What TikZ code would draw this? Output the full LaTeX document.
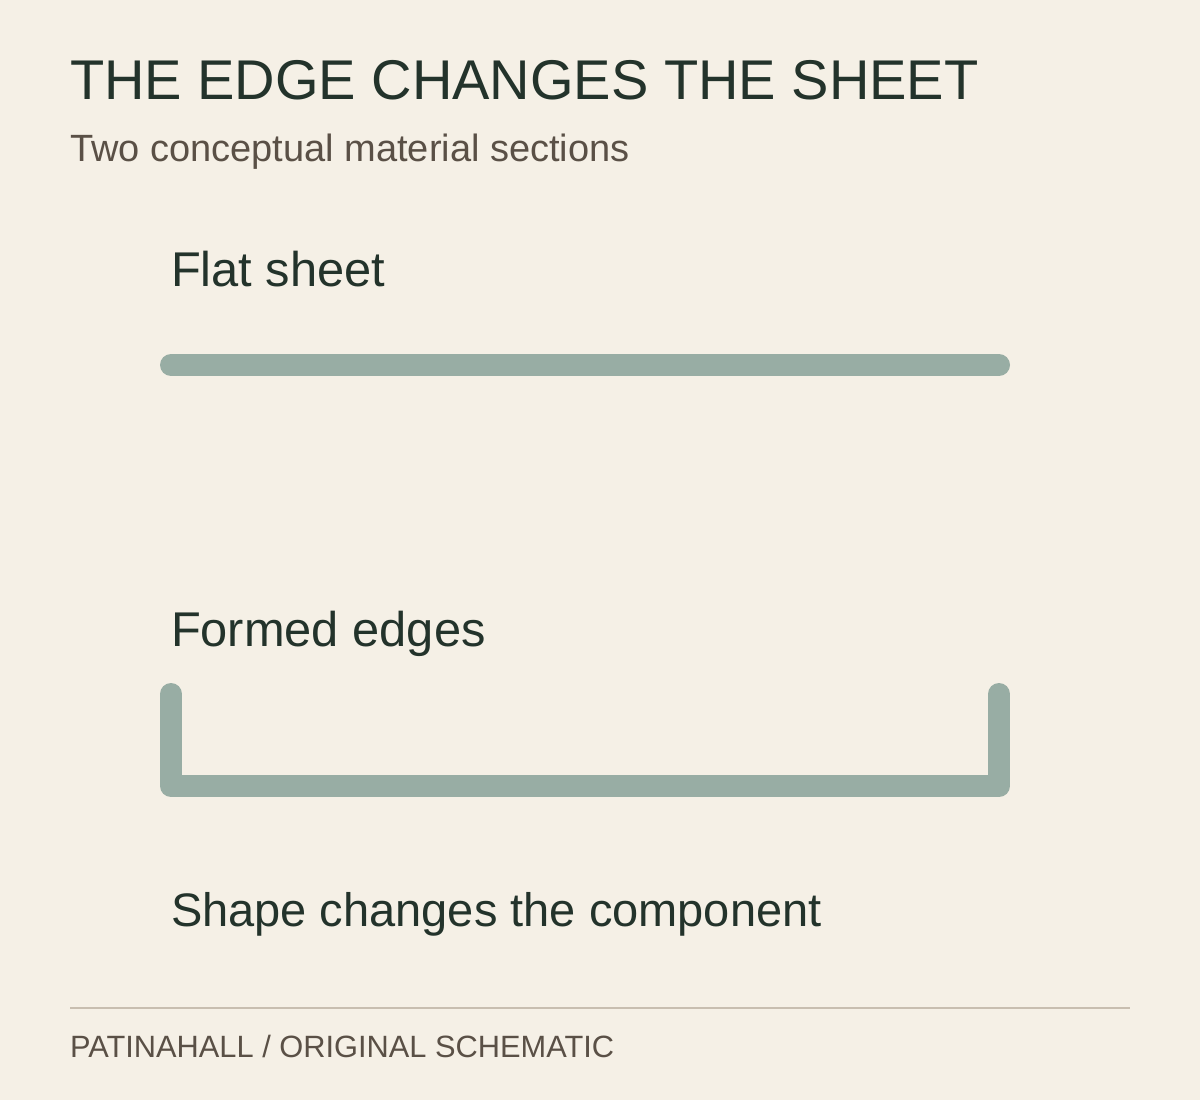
\documentclass[tikz,border=0pt]{standalone}
\usepackage{fontspec}
\setmainfont{Liberation Sans}
\usetikzlibrary{calc}
\definecolor{paper}{HTML}{F5F0E6}
\definecolor{ink}{HTML}{23332B}
\definecolor{brownish}{HTML}{5A5046}
\definecolor{sage}{HTML}{98ADA4}
\definecolor{rule}{HTML}{C8BEB0}
\tikzset{
    txt/.style={anchor=base west, inner sep=0pt, outer sep=0pt},
    titre/.style={txt, text=ink, font=\fontsize{56}{60}\selectfont},
    soustitre/.style={txt, text=brownish, font=\fontsize{38}{42}\selectfont},
    etiquette/.style={txt, text=ink, font=\fontsize{48.8}{52}\selectfont},
    pied/.style={txt, text=brownish, font=\fontsize{30.8}{34}\selectfont},
    tole/.style={draw=sage, line width=22pt, line cap=round, line join=round},
  }
\begin{document}
\begin{tikzpicture}[x=1pt,y=-1pt]
				  %fond et cadre en pixels
				  \fill[paper] (0,0) rectangle (1200,1100);
				  \useasboundingbox (0,0) rectangle (1200,1100);
				  %textes
				  \node[titre] (T) at (70,99) {THE EDGE CHANGES THE SHEET};
				  \node[soustitre] (ST) at (70,161) {Two conceptual material sections};
				  \node[etiquette] (plat) at (171,286) {Flat sheet};
				  \node[etiquette] (forme) at (171,646) {Formed edges};
				  \node[etiquette, font=\fontsize{47}{52}\selectfont] (bilan) at (171,926) {Shape changes the component};
				  \node[pied] (P) at (70,1057) {PATINAHALL / ORIGINAL SCHEMATIC};
				  %tole plate
				  \coordinate (A) at (171,365);
				  \coordinate (B) at (999,365);
				  \draw[tole] (A) -- (B);
				  %tole pliee
				  \coordinate (C) at (171,694);
				  \coordinate (D) at (171,786);
				  \coordinate (E) at (999,786);
				  \coordinate (F) at (999,694);
				  \draw[tole] (C) -- (D) -- (E) -- (F);
				  %filet
				  \coordinate (R1) at (70,1008);
				  \coordinate (R2) at (1130,1008);
				  \draw[rule, line width=2pt] (R1) -- (R2);
\end{tikzpicture}
\end{document}
